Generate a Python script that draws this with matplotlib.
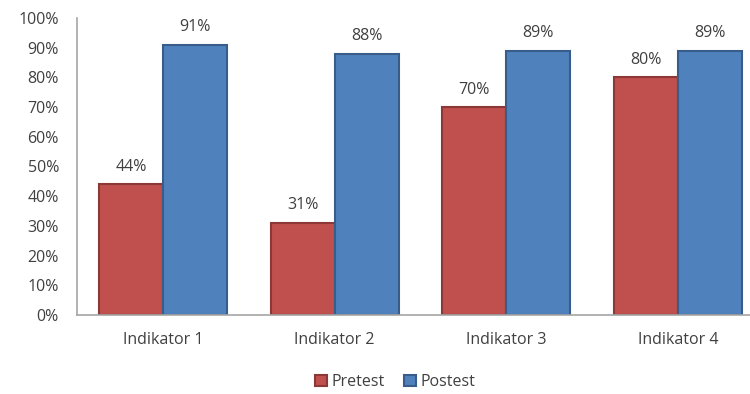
import matplotlib.pyplot as plt
import numpy as np

categories = ["Indikator 1", "Indikator 2", "Indikator 3", "Indikator 4"]
pretest = [44, 31, 70, 80]
postest = [91, 88, 89, 89]
yticks = [0, 10, 20, 30, 40, 50, 60, 70, 80, 90, 100]

RED, RED_EDGE = "#C0504D", "#8C3836"
BLUE, BLUE_EDGE = "#4F81BD", "#385D8A"
TXT = "#404040"
FS = 11.5

plt.rcParams["font.family"] = ["Open Sans", "DejaVu Sans"]

fig = plt.figure(figsize=(7.5, 3.94), dpi=100)
ax = fig.add_axes([77 / 750, 79 / 394, 687 / 750, 297 / 394])

x = np.arange(len(categories))
w = 0.372
b1 = ax.bar(x - w / 2, pretest, w, color=RED, edgecolor=RED_EDGE, linewidth=1.5, label="Pretest")
b2 = ax.bar(x + w / 2, postest, w, color=BLUE, edgecolor=BLUE_EDGE, linewidth=1.5, label="Postest")

for bars, vals in ((b1, pretest), (b2, postest)):
    for r, v in zip(bars, vals):
        ax.text(r.get_x() + r.get_width() / 2, v + 3.2, f"{v}%", ha="center", va="bottom",
                fontsize=FS, color=TXT)

ax.set_xlim(-0.5, 3.5)
ax.set_ylim(0, 100)
ax.set_yticks(yticks)
ax.set_yticklabels([f"{t}%" for t in yticks], fontsize=FS, color=TXT)
ax.set_xticks(x)
ax.set_xticklabels(categories, fontsize=FS, color=TXT)
ax.tick_params(axis="both", length=0)
ax.tick_params(axis="y", pad=13)
ax.tick_params(axis="x", pad=12)
for s in ("top", "right"):
    ax.spines[s].set_visible(False)
for s in ("left", "bottom"):
    ax.spines[s].set_color("#A6A6A6")
    ax.spines[s].set_linewidth(1.2)

fig.legend(handles=[b1, b2], loc="center", bbox_to_anchor=(395 / 750, 1 - 382 / 394), ncol=2,
           frameon=False, fontsize=FS, handlelength=0.75, handleheight=0.75, handletextpad=0.3,
           columnspacing=1.2, labelcolor=TXT)

fig.savefig("out.png", dpi=100)
